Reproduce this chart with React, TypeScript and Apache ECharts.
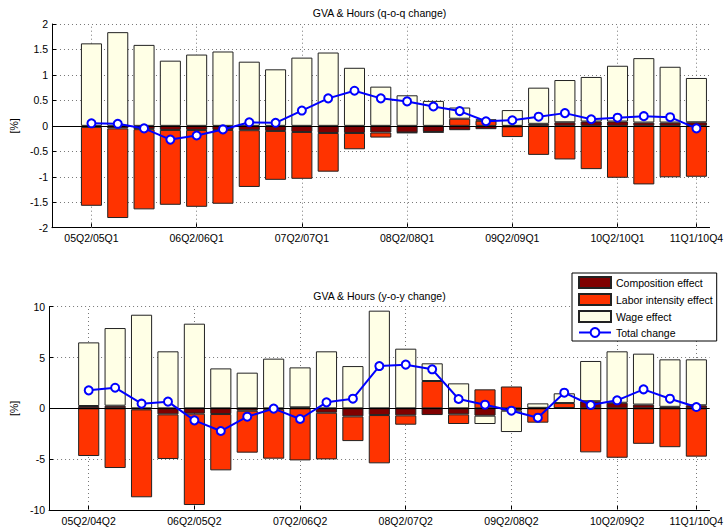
import React, { useEffect, useRef } from "react";
import * as echarts from "echarts";

// ---------- data ----------
const qoqCategories = [
  "05Q2/05Q1", "05Q3/05Q2", "05Q4/05Q3", "06Q1/05Q4", "06Q2/06Q1", "06Q3/06Q2",
  "06Q4/06Q3", "07Q1/06Q4", "07Q2/07Q1", "07Q3/07Q2", "07Q4/07Q3", "08Q1/07Q4",
  "08Q2/08Q1", "08Q3/08Q2", "08Q4/08Q3", "09Q1/08Q4", "09Q2/09Q1", "09Q3/09Q2",
  "09Q4/09Q3", "10Q1/09Q4", "10Q2/10Q1", "10Q3/10Q2", "10Q4/10Q3", "11Q1/10Q4",
];
const yoyCategories = [
  "05Q2/04Q2", "05Q3/04Q3", "05Q4/04Q4", "06Q1/05Q1", "06Q2/05Q2", "06Q3/05Q3",
  "06Q4/05Q4", "07Q1/06Q1", "07Q2/06Q2", "07Q3/06Q3", "07Q4/06Q4", "08Q1/07Q1",
  "08Q2/07Q2", "08Q3/07Q3", "08Q4/07Q4", "09Q1/08Q1", "09Q2/08Q2", "09Q3/08Q3",
  "09Q4/08Q4", "10Q1/09Q1", "10Q2/09Q2", "10Q3/09Q3", "10Q4/09Q4", "11Q1/10Q4",
];
const labeledIndices = [0, 4, 8, 12, 16, 20, 23];

// q-o-q panel
const qoqComposition = [
  -0.02, -0.05, -0.065, -0.08, -0.08, -0.08, -0.085, -0.1, -0.12, -0.14, -0.14, -0.13,
  -0.13, -0.12, -0.085, -0.065, -0.01, 0.04, 0.07, 0.085, 0.085, 0.065, 0.065, 0.07,
];
const qoqLabor = [
  -1.55, -1.76, -1.575, -1.47, -1.51, -1.45, -1.115, -0.96, -0.92, -0.76, -0.32, -0.1,
  -0.01, -0.01, 0.14, 0.1, -0.21, -0.57, -0.66, -0.85, -1.02, -1.15, -1.01, -1.0,
];
const qoqWage = [
  1.62, 1.84, 1.59, 1.28, 1.4, 1.46, 1.26, 1.11, 1.34, 1.44, 1.14, 0.77,
  0.6, 0.49, 0.22, 0.03, 0.31, 0.71, 0.83, 0.875, 1.095, 1.265, 1.095, 0.87,
];
const qoqTotal = [
  0.05, 0.04, -0.05, -0.27, -0.19, -0.07, 0.07, 0.06, 0.3, 0.54, 0.69, 0.54,
  0.48, 0.38, 0.29, 0.09, 0.11, 0.18, 0.25, 0.13, 0.16, 0.19, 0.17, -0.05,
];

// y-o-y panel
const yoyComposition = [
  0.23, 0.26, -0.1, -0.59, -0.52, -0.56, -0.23, -0.08, 0.1, -0.43, -0.79, -0.66,
  -0.69, -0.66, -0.59, -0.72, -0.23, 0.05, 0.03, 0.7, 0.55, 0.37, 0.15, 0.3,
];
const yoyLabor = [
  -4.69, -5.87, -8.65, -4.39, -8.99, -5.54, -4.13, -4.87, -5.12, -4.59, -2.43, -4.75,
  -0.92, 2.69, -0.95, 1.87, 2.15, -1.41, 0.49, -4.33, -4.86, -3.49, -3.82, -4.75,
];
const yoyWage = [
  6.26, 7.64, 9.21, 5.61, 8.33, 3.93, 3.51, 4.89, 3.93, 5.61, 4.16, 9.61,
  5.87, 1.74, 2.46, -0.82, -2.1, 0.44, 0.96, 3.96, 5.06, 5.01, 4.67, 4.52,
];
const yoyTotal = [
  1.77, 2.03, 0.46, 0.66, -1.18, -2.23, -0.82, -0.03, -1.05, 0.59, 0.95, 4.16,
  4.3, 3.84, 0.92, 0.36, -0.23, -0.92, 1.54, 0.33, 0.79, 1.87, 0.95, 0.13,
];

const qoqTicks = [2, 1.5, 1, 0.5, 0, -0.5, -1, -1.5, -2];
const yoyTicks = [10, 5, 0, -5, -10];

const titles = ["GVA & Hours (q-o-q change)", "GVA & Hours (y-o-y change)"];
const seriesNames = ["Composition effect", "Labor intensity effect", "Wage effect", "Total change"];

// ---------- styles ----------
const FONT = "Liberation Sans, Arial, Helvetica, sans-serif";
const FS = 10.5;
const C_COMP = "#800000";
const C_LABOR = "#FF3300";
const C_WAGE = "#FFFFE6";
const C_LINE = "#0000FF";
const GRID_STYLE = { color: "#777", width: 1, type: [1, 3] as number[] };

const pad = (a: any[]) => [null, ...a];

export default function App() {
  const ref = useRef<HTMLDivElement>(null);

  useEffect(() => {
    document.body.style.margin = "0";
    const chart = echarts.init(ref.current!, null, { renderer: "svg" });

    const panels = [
      { cats: qoqCategories, comp: qoqComposition, labor: qoqLabor, wage: qoqWage, total: qoqTotal, ticks: qoqTicks, top: 24, height: 203.7 },
      { cats: yoyCategories, comp: yoyComposition, labor: yoyLabor, wage: yoyWage, total: yoyTotal, ticks: yoyTicks, top: 306.7, height: 203.3 },
    ];

    const grids: any[] = [];
    const xAxes: any[] = [];
    const yAxes: any[] = [];
    const series: any[] = [];

    panels.forEach((p, gi) => {
      const shifted = labeledIndices.map((i) => i + 1);
      const labeledSet = new Set(shifted);
      const cats = ["", ...p.cats];
      const minT = Math.min(...p.ticks);
      const maxT = Math.max(...p.ticks);
      const step = Math.abs(p.ticks[0] - p.ticks[1]);
      grids.push({ left: 46, right: 13.3, top: p.top, height: p.height, containLabel: false });
      xAxes.push({
        type: "category",
        gridIndex: gi,
        data: cats,
        boundaryGap: true,
        axisLine: { show: true, onZero: false, lineStyle: { color: "#000", width: 1 } },
        axisTick: {
          show: true,
          inside: true,
          length: 5,
          alignWithLabel: true,
          interval: (idx: number) => labeledSet.has(idx),
          lineStyle: { color: "#000" },
        },
        axisLabel: {
          interval: (idx: number) => labeledSet.has(idx),
          color: "#000",
          fontFamily: FONT,
          fontSize: FS,
          margin: 5,
        },
        splitLine: { show: false },
      });
      yAxes.push({
        type: "value",
        gridIndex: gi,
        min: minT,
        max: maxT,
        interval: step,
        name: "[%]",
        nameLocation: "middle",
        nameRotate: 90,
        nameGap: 25,
        nameTextStyle: { color: "#000", fontFamily: FONT, fontSize: FS },
        axisLine: { show: true, lineStyle: { color: "#000", width: 1 } },
        axisTick: { show: true, inside: true, length: 4, lineStyle: { color: "#000" } },
        axisLabel: { color: "#000", fontFamily: FONT, fontSize: FS, margin: 4 },
        splitLine: { show: true, lineStyle: GRID_STYLE },
      });

      const barBase = {
        type: "bar",
        xAxisIndex: gi,
        yAxisIndex: gi,
        stack: "s" + gi,
        barWidth: "80%",
      };
      // vertical dotted grid lines at labelled categories (behind the bars)
      series.push({
        type: "line",
        name: "grid" + gi,
        xAxisIndex: gi,
        yAxisIndex: gi,
        data: [],
        z: 0,
        silent: true,
        markLine: {
          silent: true,
          z: 1,
          symbol: "none",
          label: { show: false },
          lineStyle: GRID_STYLE,
          data: shifted.map((i) => ({ xAxis: i })),
        },
      });
      series.push({
        ...barBase,
        name: seriesNames[0],
        data: pad(p.comp),
        itemStyle: { color: C_COMP, borderColor: "#222", borderWidth: 1 },
      });
      series.push({
        ...barBase,
        name: seriesNames[1],
        data: pad(p.labor),
        itemStyle: { color: C_LABOR, borderColor: "#222", borderWidth: 1 },
      });
      series.push({
        ...barBase,
        name: seriesNames[2],
        data: pad(p.wage),
        itemStyle: { color: C_WAGE, borderColor: "#222", borderWidth: 1 },
        markLine: {
          silent: true,
          z: 3,
          symbol: "none",
          label: { show: false },
          lineStyle: { color: "#000", width: 1, type: "solid" },
          data: [{ yAxis: 0 }],
        },
      });
      series.push({
        type: "line",
        name: seriesNames[3],
        xAxisIndex: gi,
        yAxisIndex: gi,
        data: pad(p.total),
        z: 6,
        symbol: "emptyCircle",
        symbolSize: 8,
        lineStyle: { color: C_LINE, width: 2 },
        itemStyle: { color: C_LINE, borderColor: C_LINE, borderWidth: 2 },
      });
    });

    chart.setOption({
      animation: false,
      backgroundColor: "#fff",
      textStyle: { fontFamily: FONT },
      grid: grids,
      xAxis: xAxes,
      yAxis: yAxes,
      series,
      legend: {
        orient: "vertical",
        left: 572,
        top: 273,
        padding: [3, 4, 3, 6],
        itemGap: 4,
        itemWidth: 32,
        itemHeight: 11,
        backgroundColor: "#fff",
        borderColor: "#000",
        borderWidth: 1,
        borderRadius: 0,
        textStyle: { color: "#000", fontFamily: FONT, fontSize: FS },
        data: [
          { name: seriesNames[0], icon: "rect" },
          { name: seriesNames[1], icon: "rect" },
          { name: seriesNames[2], icon: "rect" },
          { name: seriesNames[3] },
        ],
      },
      graphic: [
        {
          type: "text",
          x: 379.5,
          y: 12.5,
          style: { text: titles[0], align: "center", verticalAlign: "middle", fill: "#000", font: `${FS}px ${FONT}` },
        },
        {
          type: "text",
          x: 379.5,
          y: 295.5,
          style: { text: titles[1], align: "center", verticalAlign: "middle", fill: "#000", font: `${FS}px ${FONT}` },
        },
      ],
    });

    return () => chart.dispose();
  }, []);

  return (
    <div
      ref={ref}
      style={{ position: "absolute", left: 0, top: 0, width: 726, height: 529 }}
    />
  );
}
